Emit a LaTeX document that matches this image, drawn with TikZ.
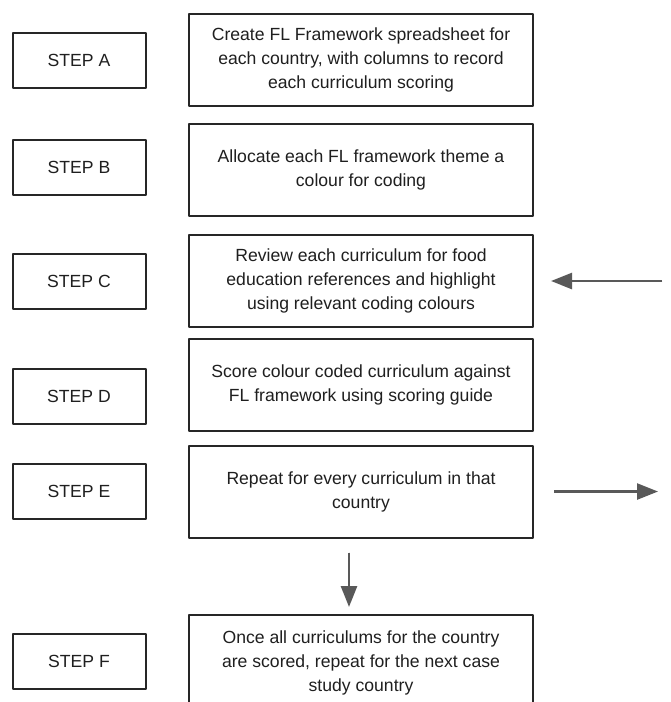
\documentclass[tikz,border=0pt]{standalone}
\usepackage{fontspec}
\setmainfont{Liberation Sans}
\usetikzlibrary{arrows.meta,positioning}

\begin{document}
\begin{tikzpicture}[line join=round,>={Triangle[length=21pt,width=16pt]},x=1pt,y=-1pt,
  stepbox/.style={draw=black!85,line width=2pt,minimum width=133pt,minimum height=55pt,inner sep=0pt,text=black!88,font=\fontsize{17.6}{24}\selectfont},
  taskbox/.style={draw=black!85,line width=2pt,minimum width=344pt,minimum height=92pt,inner sep=0pt,align=center,text=black!88,font=\fontsize{17.6}{24}\selectfont},
  flowarrow/.style={->,draw=black!65,fill=black!65,line width=2.5pt}]
     \fill[white] (0,0) rectangle (670,702); % Hintergrund
     \useasboundingbox (0,0) rectangle (670,702);
     \clip (0,0) rectangle (670,702);
     % linke Spalte
     \node[stepbox] (stepA) at (79,60)  {STEP A};
     \node[stepbox] (stepB) at (79,167) {STEP B};
     \node[stepbox] (stepC) at (79,281) {STEP C};
     \node[stepbox] (stepD) at (79,396) {STEP D};
     \node[stepbox] (stepE) at (79,491) {STEP E};
     \node[stepbox] (stepF) at (79,661) {STEP F};
     % rechte Spalte
     \node[taskbox] (taskA) at (361,59.5) {Create FL Framework spreadsheet for\\each country, with columns to record\\each curriculum scoring};
     \node[taskbox] (taskB) at (361,170) {Allocate each FL framework theme a\\colour for coding};
     \node[taskbox] (taskC) at (361,281) {Review each curriculum for food\\education references and highlight\\using relevant coding colours};
     \node[taskbox] (taskD) at (361,385) {Score colour coded curriculum against\\FL framework using scoring guide};
     \node[taskbox] (taskE) at (361,491.5) {Repeat for every curriculum in that\\country};
     \node[taskbox,minimum height=96pt] (taskF) at (361,663) {Once all curriculums for the country\\are scored, repeat for the next case\\study country};
     % Pfeile
     \coordinate (inC) at (662,281);
     \coordinate (outE) at (658,491.5);
     \draw[flowarrow] (inC) -- ([xshift=17pt]taskC.east);
     \draw[flowarrow] ([xshift=20pt]taskE.east) -- (outE);
     \draw[flowarrow,shorten <=14pt,shorten >=7pt] ([xshift=-12pt]taskE.south) -- ([xshift=-12pt]taskF.north);
\end{tikzpicture}
\end{document}
